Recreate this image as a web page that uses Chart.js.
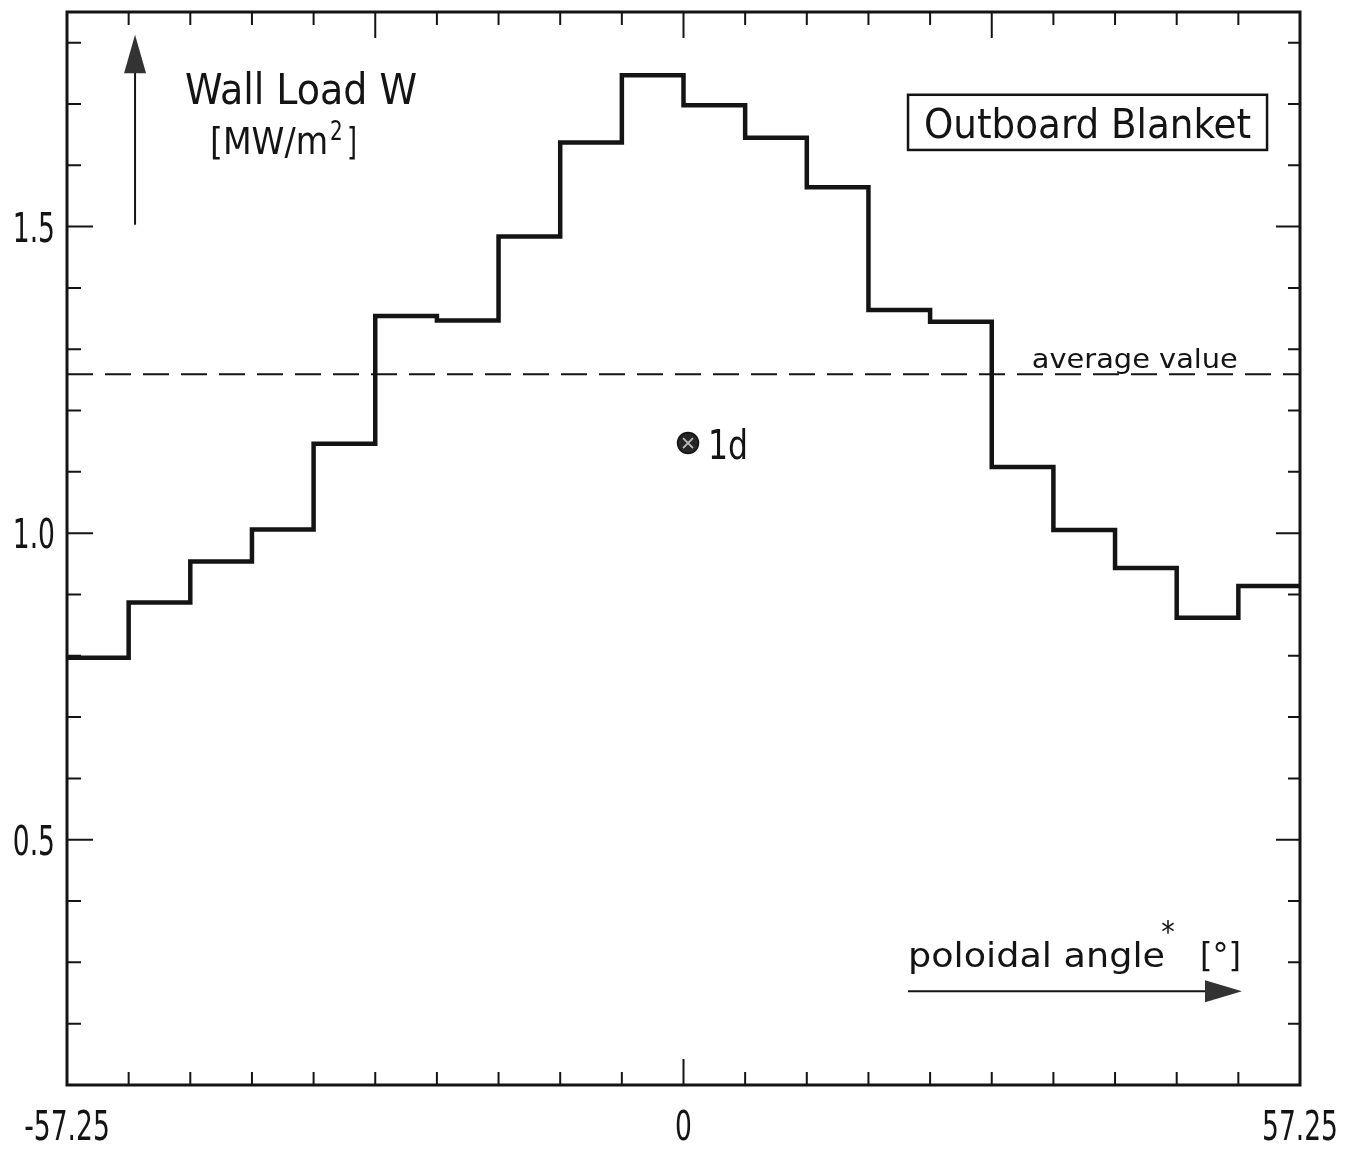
<!DOCTYPE html>
<html>
<head>
<meta charset="utf-8">
<script src="https://cdn.jsdelivr.net/npm/chart.js@4/dist/chart.umd.min.js"></script>
<style>
  html, body { margin: 0; padding: 0; background: #fff; }
  #wrap { width: 1357px; height: 1150px; }
</style>
</head>
<body>
<div id="wrap"><canvas id="c" width="1357" height="1150"></canvas></div>
<script>
// ---- data ----
const binEdges = [-57.25, -51.525, -45.8, -40.075, -34.35, -28.625, -22.9, -17.175, -11.45, -5.725, 0,
                  5.725, 11.45, 17.175, 22.9, 28.625, 34.35, 40.075, 45.8, 51.525, 57.25];
const wallLoad = [0.797, 0.887, 0.954, 1.006, 1.146, 1.354, 1.347, 1.484, 1.637, 1.747,
                  1.698, 1.645, 1.564, 1.364, 1.345, 1.108, 1.005, 0.943, 0.862, 0.914];
const averageValue = 1.259;
const point1d = [{ x: 0.42, y: 1.147 }];
const xMajorTicks = [-28.625, 0, 28.625];
const xLabelValues = [-57.25, 0, 57.25];
const xLabelTexts = ['-57.25', '0', '57.25'];
const yTickValues = [0.2, 0.3, 0.4, 0.5, 0.6, 0.7, 0.8, 0.9, 1.0, 1.1, 1.2, 1.3, 1.4, 1.5, 1.6, 1.7, 1.8];
const yMajorTicks = [0.5, 1.0, 1.5];
const yLabelValues = [0.5, 1.0, 1.5];
const yLabelTexts = ['0.5', '1.0', '1.5'];

const stepData = binEdges.slice(0, wallLoad.length).map((x, i) => ({ x: x, y: wallLoad[i] }));
stepData.push({ x: binEdges[binEdges.length - 1], y: wallLoad[wallLoad.length - 1] });
const avgData = [{ x: binEdges[0], y: averageValue }, { x: binEdges[binEdges.length - 1], y: averageValue }];

const FAM = '"DejaVu Sans Condensed", "DejaVu Sans", sans-serif';
const INK = '#141414';

function drawText(ctx, txt, x, y, size, sx, align) {
  ctx.save();
  ctx.font = size + 'px ' + FAM;
  ctx.textAlign = align || 'left';
  ctx.textBaseline = 'alphabetic';
  ctx.fillStyle = INK;
  ctx.translate(x, y);
  ctx.scale(sx, 1);
  ctx.fillText(txt, 0, 0);
  ctx.restore();
}
function fitText(ctx, txt, x, y, size, w, align) {
  ctx.save();
  ctx.font = size + 'px ' + FAM;
  const m = ctx.measureText(txt).width;
  ctx.restore();
  drawText(ctx, txt, x, y, size, w / m, align);
}

const decor = {
  id: 'decor',
  beforeDraw(chart) {
    const ctx = chart.ctx;
    ctx.save();
    ctx.fillStyle = '#fff';
    ctx.fillRect(0, 0, chart.width, chart.height);
    ctx.restore();
  },
  afterDraw(chart) {
    const ctx = chart.ctx;
    const xs = chart.scales.x, ys = chart.scales.y;
    const a = chart.chartArea;
    const X = v => xs.getPixelForValue(v);
    const Y = v => ys.getPixelForValue(v);
    ctx.save();
    ctx.strokeStyle = INK;
    ctx.lineCap = 'butt';
    // frame
    ctx.lineWidth = 3;
    ctx.strokeRect(a.left, a.top, a.right - a.left, a.bottom - a.top);
    // ticks (inward)
    ctx.lineWidth = 2;
    ctx.beginPath();
    binEdges.forEach(v => {
      const px = X(v);
      const topLen = xMajorTicks.includes(v) ? 26 : 13;
      const botLen = v === 0 ? 26 : 13;
      ctx.moveTo(px, a.top); ctx.lineTo(px, a.top + topLen);
      ctx.moveTo(px, a.bottom); ctx.lineTo(px, a.bottom - botLen);
    });
    yTickValues.forEach(v => {
      const py = Y(v);
      const len = yMajorTicks.some(m => Math.abs(m - v) < 1e-9) ? 26 : 14;
      ctx.moveTo(a.left, py); ctx.lineTo(a.left + len, py);
      ctx.moveTo(a.right, py); ctx.lineTo(a.right - len + 2, py);
    });
    ctx.stroke();

    // tick labels
    xLabelValues.forEach((v, i) => drawText(ctx, xLabelTexts[i], X(v), a.bottom + 55, 41, 0.72, 'center'));
    yLabelValues.forEach((v, i) => drawText(ctx, yLabelTexts[i], a.left - 12, Y(v) + 15, 41, 0.72, 'right'));

    // vertical arrow (y axis quantity)
    ctx.fillStyle = '#333';
    ctx.lineWidth = 2;
    const ax = X(-50.93);
    ctx.beginPath();
    ctx.moveTo(ax, Y(1.503)); ctx.lineTo(ax, Y(1.76));
    ctx.stroke();
    ctx.beginPath();
    ctx.moveTo(ax, Y(1.813)); ctx.lineTo(ax - 11, Y(1.75)); ctx.lineTo(ax + 11, Y(1.75)); ctx.closePath();
    ctx.fill();

    // y quantity label
    fitText(ctx, 'Wall Load W', X(-46.29), Y(1.700), 42, 232, 'left');
    fitText(ctx, '[MW/m', X(-43.97), Y(1.619), 38, 118, 'left');
    drawText(ctx, '2', X(-43.97) + 120, Y(1.619) - 14, 26, 0.85, 'left');
    fitText(ctx, ']', X(-43.97) + 137, Y(1.619), 38, 10, 'left');

    // Outboard Blanket box
    const bx0 = X(20.85), bx1 = X(54.19), by0 = Y(1.715), by1 = Y(1.625);
    ctx.lineWidth = 2.5;
    ctx.strokeRect(bx0, by0, bx1 - bx0, by1 - by0);
    fitText(ctx, 'Outboard Blanket', (bx0 + bx1) / 2, by1 - 12, 40, 327, 'center');

    // average value label
    fitText(ctx, 'average value', X(32.35), Y(1.269), 27, 206, 'left');

    // 1d label
    fitText(ctx, '1d', X(2.28), Y(1.121), 41, 40, 'left');

    // poloidal angle label + arrow
    fitText(ctx, 'poloidal angle', X(20.85), Y(0.292), 34, 257, 'left');
    drawText(ctx, '*', X(45.0), Y(0.334), 30, 1, 'center');
    fitText(ctx, '[°]', X(47.96), Y(0.292), 34, 41, 'left');
    const ry = Y(0.253);
    ctx.lineWidth = 2;
    ctx.beginPath();
    ctx.moveTo(X(20.85), ry); ctx.lineTo(X(48.6), ry);
    ctx.stroke();
    ctx.beginPath();
    ctx.moveTo(X(51.86), ry); ctx.lineTo(X(48.43), ry - 11); ctx.lineTo(X(48.43), ry + 11); ctx.closePath();
    ctx.fill();
    ctx.restore();
  }
};

new Chart(document.getElementById('c'), {
  type: 'line',
  data: {
    datasets: [
      {
        label: 'Wall load',
        data: stepData,
        stepped: 'before',
        borderColor: INK,
        borderWidth: 4.5,
        borderJoinStyle: 'miter',
        pointRadius: 0,
        fill: false,
        order: 3
      },
      {
        label: 'average value',
        data: avgData,
        borderColor: INK,
        borderWidth: 2,
        borderDash: [26, 12],
        pointRadius: 0,
        fill: false,
        order: 4
      },
      {
        label: '1d',
        data: point1d,
        showLine: false,
        pointStyle: 'circle',
        pointRadius: 10.5,
        pointBackgroundColor: '#262626',
        pointBorderColor: INK,
        pointBorderWidth: 1.5,
        order: 2
      },
      {
        label: '1d cross',
        data: point1d,
        showLine: false,
        pointStyle: 'crossRot',
        pointRadius: 7,
        pointBorderColor: '#b8b8b8',
        pointBorderWidth: 1.8,
        order: 1
      }
    ]
  },
  options: {
    responsive: false,
    animation: false,
    devicePixelRatio: 1,
    layout: { padding: { top: 10, right: 57, left: 0, bottom: 0 } },
    plugins: { legend: { display: false }, tooltip: { enabled: false } },
    scales: {
      x: {
        type: 'linear',
        min: -57.25,
        max: 57.25,
        grid: { display: false },
        border: { display: false },
        ticks: { display: false },
        afterFit(scale) { scale.height = 65; }
      },
      y: {
        type: 'linear',
        min: 0.1,
        max: 1.85,
        grid: { display: false },
        border: { display: false },
        ticks: { display: false },
        afterFit(scale) { scale.width = 67; }
      }
    }
  },
  plugins: [decor]
});
</script>
</body>
</html>
